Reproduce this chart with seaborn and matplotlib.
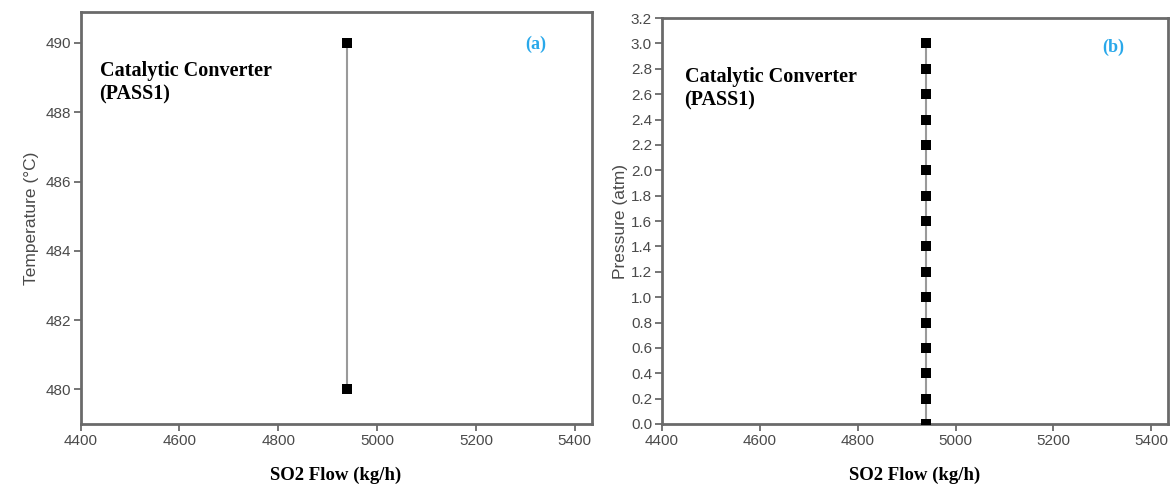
import matplotlib
matplotlib.use("Agg")
import matplotlib.pyplot as plt
import seaborn as sns
import pandas as pd
import numpy as np

# Data
flow_a = [4940, 4940]
temp_a = [480, 490]
flow_b = [4940] * 16
pres_b = [0.0, 0.2, 0.4, 0.6, 0.8, 1.0, 1.2, 1.4, 1.6, 1.8, 2.0, 2.2, 2.4, 2.6, 2.8, 3.0]
x_ticks = [4400, 4600, 4800, 5000, 5200, 5400]
temp_ticks = [480, 482, 484, 486, 488, 490]
pres_ticks = [0.0, 0.2, 0.4, 0.6, 0.8, 1.0, 1.2, 1.4, 1.6, 1.8, 2.0, 2.2, 2.4, 2.6, 2.8, 3.0, 3.2]

sns.set_style("ticks")
plt.rcParams['font.family'] = ['Liberation Sans', 'DejaVu Sans']

fig = plt.figure(figsize=(11.76, 4.9), dpi=100)
ax1 = fig.add_axes([0.0686, 0.1347, 0.503 - 0.0686, 0.976 - 0.1347])
ax2 = fig.add_axes([0.5627, 0.1347, 0.9932 - 0.5627, 0.963 - 0.1347])

df_a = pd.DataFrame({"flow": flow_a, "temp": temp_a})
df_b = pd.DataFrame({"flow": flow_b, "pres": pres_b})

spine_c = "#6a6a6a"
tick_c = "#4a4a4a"
line_c = "#9a9a9a"

for ax, df, ycol in [(ax1, df_a, "temp"), (ax2, df_b, "pres")]:
    sns.lineplot(data=df, x="flow", y=ycol, ax=ax, estimator=None, sort=False,
                 color=line_c, linewidth=1.5, zorder=2)
    sns.scatterplot(data=df, x="flow", y=ycol, ax=ax, marker="s", s=45,
                    color="black", edgecolor="black", linewidth=0, zorder=3, clip_on=True)
    for s in ax.spines.values():
        s.set_visible(True)
        s.set_color(spine_c)
        s.set_linewidth(2.0)
    ax.tick_params(axis="both", which="both", direction="out", length=5, width=1.3,
                   color=spine_c, labelcolor=tick_c, labelsize=11, pad=2,
                   bottom=True, left=True, top=False, right=False)
    ax.set_xticks(x_ticks)
    ax.set_xticklabels([str(v) for v in x_ticks])
    ax.set_xlim(4400, 5434)
    ax.set_xlabel("SO2 Flow (kg/h)", family=["Liberation Serif"], fontweight="bold",
                  fontsize=13.5, color="black", labelpad=14)

ax1.set_ylim(479.0, 490.9)
ax1.set_yticks(temp_ticks)
ax1.set_yticklabels([str(v) for v in temp_ticks])
ax1.set_ylabel("Temperature (\u00b0C)", fontsize=12.5, color=tick_c, labelpad=5)

ax2.set_ylim(0, 3.2)
ax2.set_yticks(pres_ticks)
ax2.set_yticklabels([f"{v:.1f}" for v in pres_ticks])
ax2.set_ylabel("Pressure (atm)", fontsize=12.5, color=tick_c, labelpad=2)

ax1.text(0.037, 0.88, "Catalytic Converter\n(PASS1)", transform=ax1.transAxes,
         family=["Liberation Serif"], fontweight="bold", fontsize=14.5, color="black",
         va="top", ha="left", linespacing=1.25)
ax2.text(0.045, 0.88, "Catalytic Converter\n(PASS1)", transform=ax2.transAxes,
         family=["Liberation Serif"], fontweight="bold", fontsize=14.5, color="black",
         va="top", ha="left", linespacing=1.25)

ax1.text(0.891, 0.92, "(a)", transform=ax1.transAxes, family=["Liberation Serif"],
         fontweight="bold", fontsize=13, color="#29a8ea", ha="center", va="center")
ax2.text(0.892, 0.929, "(b)", transform=ax2.transAxes, family=["Liberation Serif"],
         fontweight="bold", fontsize=13, color="#29a8ea", ha="center", va="center")

fig.savefig("out.png", dpi=100)
